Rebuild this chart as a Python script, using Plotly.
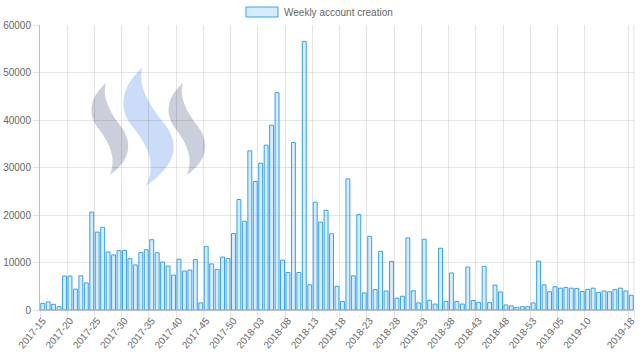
import plotly.graph_objects as go

# ---- data ----
weeks_2017 = [f"2017-{w:02d}" for w in range(15, 53)]
weeks_2018 = [f"2018-{w:02d}" for w in range(1, 54)]
weeks_2019 = [f"2019-{w:02d}" for w in range(1, 19)]
week_labels = weeks_2017 + weeks_2018 + weeks_2019

values_2017 = [1400, 1700, 1200, 700, 7150, 7150, 4400, 7200, 5700, 20600,
               16400, 17400, 12200, 11600, 12500, 12550, 10800, 9500, 12100, 12700,
               14800, 12050, 10100, 9250, 7350, 10700, 8200, 8400, 10600, 1500,
               13400, 9700, 8550, 11150, 10850, 16100, 23250, 18700]
values_2018 = [33500, 27050, 30900, 34700, 38900, 45750, 10500, 7900, 35250, 7900,
               56550, 5300, 22700, 18500, 21000, 16050, 5000, 1800, 27600, 7200,
               20100, 3600, 15500, 4300, 12350, 4000, 10250, 2500, 2900, 15150,
               4050, 1500, 14900, 2050, 1250, 13000, 1800, 7800, 1800, 1250,
               9050, 2000, 1600, 9200, 1550, 5250, 3800, 1050, 850, 560,
               700, 700, 1500]
values_2019 = [10300, 5300, 3850, 4900, 4600, 4750, 4600, 4550, 3900, 4350,
               4600, 3700, 4000, 3850, 4300, 4600, 4000, 3100]
weekly_accounts = values_2017 + values_2018 + values_2019

tick_labels = week_labels[0:101:5] + [week_labels[-1]]
y_ticks = [0, 10000, 20000, 30000, 40000, 50000, 60000]
series_name = "Weekly account creation"

# ---- layout geometry (pixels) ----
W, H = 640, 361
L, R, T, B = 40, 634, 25, 310


def px(x):
    return (x - L) / (R - L)


def py(y):
    return (B - y) / (B - T)


FILL = "rgba(54,162,235,0.2)"
LINE = "rgb(54,162,235)"
GRID = "rgba(0,0,0,0.1)"
FONT = "Liberation Sans, Arial, Helvetica, sans-serif"

fig = go.Figure()
fig.add_trace(go.Bar(
    x=week_labels, y=weekly_accounts, name=series_name,
    marker=dict(color=FILL, line=dict(color=LINE, width=1)),
    showlegend=False,
))


def swoosh(points, color):
    sx, sy = points[0]
    d = f"M {px(sx):.4f},{py(sy):.4f}"
    rest = points[1:]
    for i in range(0, len(rest), 3):
        seg = rest[i:i + 3]
        d += " C " + " ".join(f"{px(a):.4f},{py(b):.4f}" for a, b in seg)
    d += " Z"
    return dict(type="path", xref="paper", yref="paper", path=d,
                fillcolor=color, line=dict(width=0), layer="below")


shapes = [
    swoosh([(106, 83), (92, 95), (86, 112), (98, 128), (112, 146), (116, 160), (110, 175),
            (128, 162), (134, 146), (122, 128), (108, 110), (102, 96), (106, 83)],
           "rgba(160,165,190,0.55)"),
    swoosh([(142, 68), (124, 84), (116, 106), (132, 126), (150, 148), (156, 166), (146, 186),
            (172, 168), (182, 148), (166, 126), (150, 106), (138, 88), (142, 68)],
           "rgba(150,185,240,0.5)"),
    swoosh([(183, 83), (169, 95), (163, 112), (175, 128), (189, 146), (193, 160), (187, 175),
            (205, 162), (211, 146), (199, 128), (185, 110), (179, 96), (183, 83)],
           "rgba(160,165,190,0.55)"),
    # legend box
    dict(type="rect", xref="paper", yref="paper",
         x0=px(246), x1=px(278), y0=py(17), y1=py(7),
         fillcolor=FILL, line=dict(color=LINE, width=1)),
    # right-edge grid line
    dict(type="line", xref="paper", yref="paper", x0=1, x1=1, y0=0, y1=1,
         line=dict(color=GRID, width=1)),
]

fig.update_layout(
    width=W, height=H,
    margin=dict(l=L, r=W - R, t=T, b=H - B, pad=0, autoexpand=False),
    paper_bgcolor="white", plot_bgcolor="white",
    bargap=0.28,
    font=dict(family=FONT, size=10, color="#666"),
    shapes=shapes,
    annotations=[dict(text=series_name, xref="paper", yref="paper",
                      x=px(282), y=py(12), xanchor="left", yanchor="middle",
                      showarrow=False, font=dict(family=FONT, size=10, color="#666"))],
    xaxis=dict(
        type="category", tickmode="array", tickvals=tick_labels, ticktext=tick_labels,
        tickson="boundaries", tickangle=-50, ticks="outside", ticklen=8, tickcolor=GRID,
        showgrid=True, gridcolor=GRID, gridwidth=1, automargin=False,
        showline=True, linecolor="rgba(0,0,0,0.25)", linewidth=1,
        tickfont=dict(family=FONT, size=10, color="#666"),
        range=[-0.5, len(week_labels) - 0.5],
    ),
    yaxis=dict(
        range=[0, 60000], tickmode="array", tickvals=y_ticks,
        ticktext=[str(v) for v in y_ticks], automargin=False,
        ticks="outside", ticklen=6, tickcolor=GRID,
        showgrid=True, gridcolor=GRID, gridwidth=1,
        showline=True, linecolor="rgba(0,0,0,0.25)", linewidth=1,
        zeroline=False,
        tickfont=dict(family=FONT, size=10, color="#666"),
    ),
)

fig.write_html("out.html", config={"displayModeBar": False},
               post_script="document.body.style.margin='0px';document.body.style.overflow='hidden';")
